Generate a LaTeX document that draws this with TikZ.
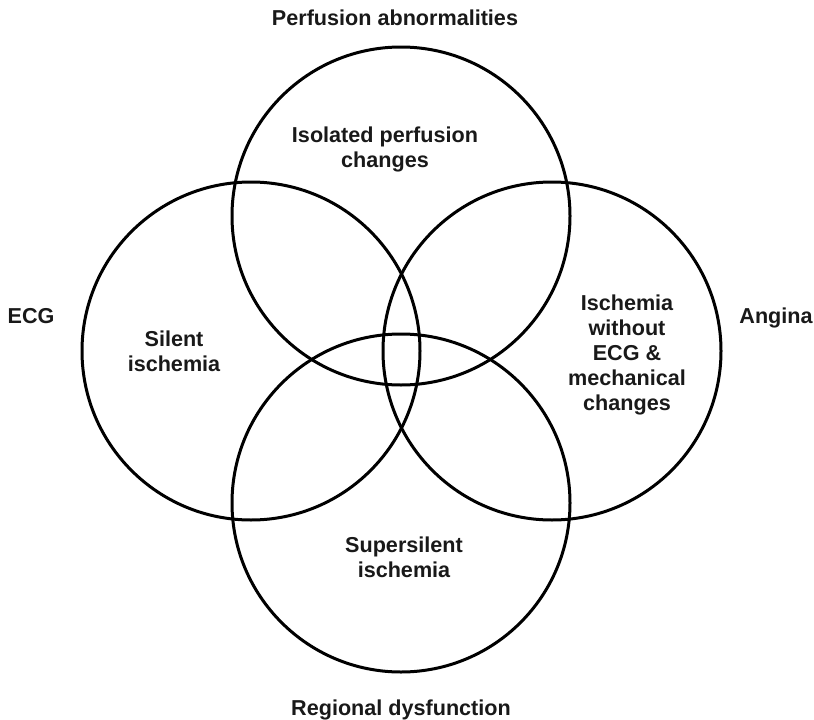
\documentclass[tikz,border=0pt]{standalone}
\usepackage{fontspec}
\setmainfont{Liberation Sans}
\begin{document}
\begin{tikzpicture}[x=1pt,y=-1pt,
  ring/.style={circle,draw=black,line width=3pt,minimum size=338pt,inner sep=0pt,outer sep=0pt},
  lbl/.style={font=\fontsize{21.6}{25}\selectfont\bfseries,align=center,inner sep=0pt,anchor=base,text=black!90}]
\useasboundingbox (0,0) rectangle (814,720);
\node[ring] (ctop) at (401,216) {};
\node[ring] (cleft) at (251,351) {};
\node[ring] (cright) at (552,351) {};
\node[ring] (cbot) at (401,503) {};
\node[lbl] (tperf) at (395,25) {Perfusion abnormalities};
\node[lbl] (tiso) at (385,167) {Isolated perfusion\\changes};
\node[lbl] (tecg) at (31,323) {ECG};
\node[lbl] (tang) at (776,323) {Angina};
\node[lbl] (tsil) at (174,371) {Silent\\ischemia};
\node[lbl] (tisch) at (627,410) {Ischemia\\without\\ECG \&\\mechanical\\changes};
\node[lbl] (tsup) at (404,577) {Supersilent\\ischemia};
\node[lbl] (treg) at (401,715) {Regional dysfunction};
\end{tikzpicture}
\end{document}
